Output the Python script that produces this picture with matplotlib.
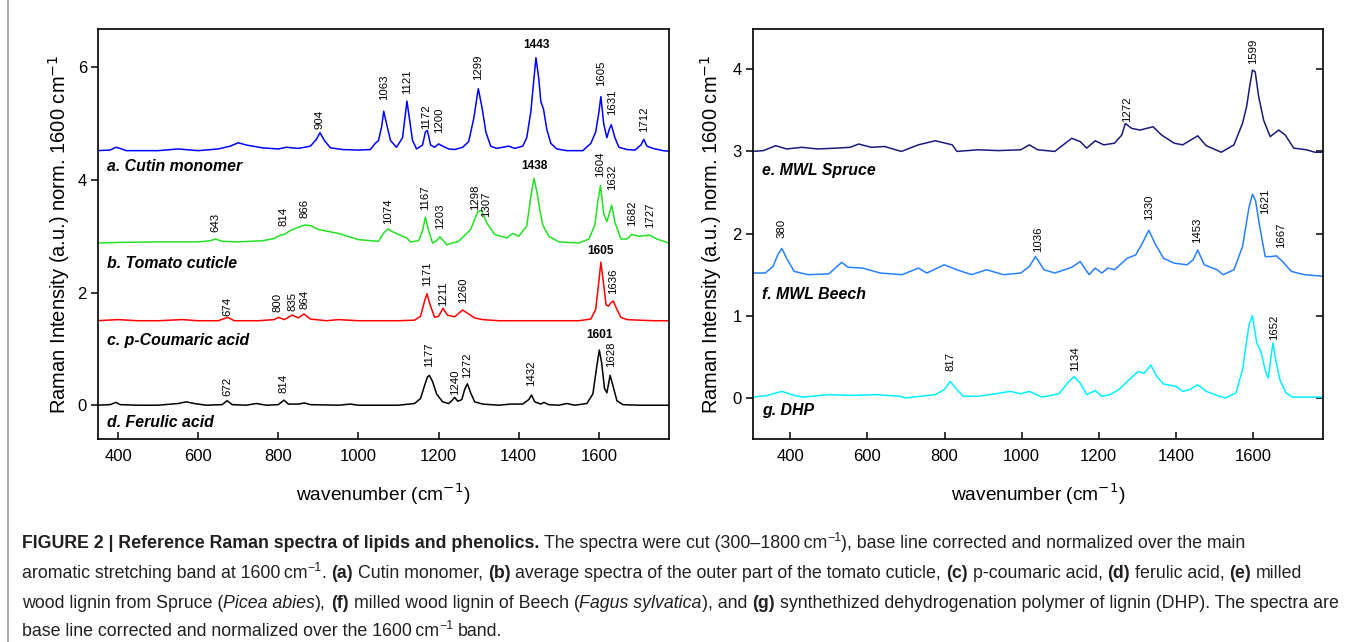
import matplotlib
matplotlib.use('Agg')
import matplotlib.pyplot as plt
from matplotlib import font_manager
from matplotlib.lines import TICKLEFT

plt.rcParams['font.family'] = ['Liberation Sans', 'DejaVu Sans']

# ---- spectra (wavenumber, normalized intensity) ----
cutin_wn = [347, 380, 395, 405, 420, 500, 550, 600, 650, 680, 700, 720, 760, 800, 820, 850, 880, 895, 904, 915,
            930, 960, 1000, 1030, 1042, 1050, 1058, 1063, 1070, 1080, 1095, 1110, 1116, 1121, 1127, 1135, 1145,
            1160, 1167, 1172, 1180, 1190, 1200, 1210, 1225, 1240, 1260, 1275, 1288, 1299, 1308, 1318, 1330, 1345,
            1360, 1375, 1390, 1410, 1420, 1430, 1438, 1443, 1450, 1455, 1462, 1470, 1480, 1495, 1520, 1560, 1580,
            1592, 1600, 1605, 1612, 1620, 1626, 1631, 1640, 1650, 1670, 1690, 1705, 1712, 1720, 1735, 1760, 1775]
cutin_int = [4.52, 4.53, 4.58, 4.56, 4.52, 4.52, 4.55, 4.52, 4.55, 4.60, 4.66, 4.62, 4.57, 4.55, 4.58, 4.56, 4.60,
             4.72, 4.84, 4.70, 4.57, 4.54, 4.53, 4.54, 4.65, 4.70, 4.95, 5.22, 5.00, 4.70, 4.58, 4.75, 5.10, 5.40,
             5.10, 4.70, 4.55, 4.62, 4.85, 4.88, 4.62, 4.58, 4.64, 4.60, 4.55, 4.54, 4.58, 4.68, 5.10, 5.62, 5.30,
             4.85, 4.60, 4.56, 4.58, 4.60, 4.56, 4.60, 4.75, 5.20, 5.80, 6.17, 5.80, 5.40, 5.25, 4.90, 4.65, 4.55,
             4.52, 4.52, 4.65, 4.85, 5.20, 5.48, 5.00, 4.75, 4.90, 4.98, 4.75, 4.58, 4.54, 4.53, 4.62, 4.72, 4.60,
             4.56, 4.52, 4.51]

tomato_wn = [347, 400, 500, 600, 630, 643, 660, 700, 760, 790, 805, 814, 830, 850, 866, 880, 900, 950, 1000, 1050,
             1062, 1074, 1085, 1100, 1120, 1130, 1150, 1160, 1167, 1175, 1185, 1195, 1203, 1212, 1220, 1250, 1280,
             1290, 1298, 1307, 1320, 1340, 1370, 1385, 1400, 1420, 1430, 1438, 1445, 1452, 1460, 1475, 1500, 1550,
             1575, 1590, 1597, 1604, 1612, 1620, 1632, 1640, 1655, 1670, 1682, 1700, 1727, 1745, 1775]
tomato_int = [2.88, 2.89, 2.90, 2.90, 2.92, 2.95, 2.91, 2.90, 2.92, 2.96, 3.02, 3.03, 3.10, 3.16, 3.20, 3.19, 3.12,
              3.05, 2.94, 2.91, 3.05, 3.13, 3.08, 3.03, 2.97, 2.90, 2.92, 3.10, 3.34, 3.10, 2.88, 2.92, 2.99, 2.92,
              2.85, 2.91, 3.12, 3.30, 3.44, 3.46, 3.24, 3.03, 2.97, 3.05, 3.00, 3.18, 3.70, 4.03, 3.80, 3.50, 3.20,
              3.00, 2.90, 2.88, 2.95, 3.20, 3.60, 3.90, 3.40, 3.26, 3.55, 3.25, 2.95, 2.95, 3.03, 3.00, 3.02, 2.95,
              2.88]

coumaric_wn = [347, 400, 450, 500, 560, 600, 650, 674, 690, 750, 790, 800, 815, 835, 850, 864, 880, 920, 950, 1000,
               1050, 1100, 1140, 1155, 1165, 1171, 1178, 1190, 1200, 1211, 1222, 1240, 1260, 1275, 1290, 1310, 1350,
               1400, 1450, 1500, 1550, 1580, 1592, 1600, 1605, 1611, 1618, 1624, 1630, 1636, 1645, 1655, 1670, 1700,
               1740, 1775]
coumaric_int = [1.50, 1.52, 1.50, 1.50, 1.52, 1.50, 1.50, 1.56, 1.50, 1.50, 1.52, 1.56, 1.52, 1.60, 1.55, 1.62,
                1.53, 1.50, 1.52, 1.50, 1.50, 1.50, 1.51, 1.58, 1.85, 1.98, 1.80, 1.56, 1.58, 1.72, 1.60, 1.57, 1.69,
                1.62, 1.55, 1.52, 1.50, 1.50, 1.50, 1.50, 1.50, 1.53, 1.70, 2.20, 2.54, 2.20, 1.78, 1.76, 1.82, 1.85,
                1.70, 1.56, 1.52, 1.51, 1.50, 1.50]

ferulic_wn = [347, 380, 395, 405, 450, 500, 550, 570, 590, 620, 660, 672, 685, 720, 745, 770, 800, 814, 825, 850,
              865, 880, 950, 980, 1000, 1100, 1140, 1155, 1165, 1172, 1177, 1185, 1195, 1210, 1225, 1233, 1240, 1248,
              1258, 1265, 1272, 1280, 1290, 1310, 1350, 1380, 1410, 1425, 1432, 1440, 1455, 1463, 1475, 1500, 1520,
              1540, 1570, 1585, 1595, 1601, 1607, 1614, 1620, 1628, 1635, 1645, 1660, 1700, 1775]
ferulic_int = [0.00, 0.01, 0.05, 0.01, 0.00, 0.00, 0.03, 0.06, 0.03, 0.00, 0.01, 0.08, 0.01, 0.00, 0.03, 0.00, 0.01,
               0.09, 0.02, 0.02, 0.04, 0.01, 0.00, 0.02, 0.00, 0.00, 0.03, 0.12, 0.35, 0.50, 0.53, 0.42, 0.20, 0.06,
               0.03, 0.08, 0.14, 0.07, 0.10, 0.28, 0.38, 0.22, 0.06, 0.02, 0.00, 0.02, 0.02, 0.10, 0.18, 0.06, 0.02,
               0.05, 0.01, 0.00, 0.03, 0.00, 0.03, 0.20, 0.70, 0.98, 0.75, 0.30, 0.22, 0.53, 0.35, 0.08, 0.01, 0.00,
               0.00]

spruce_wn = [303, 330, 362, 390, 430, 470, 520, 555, 577, 610, 644, 688, 732, 776, 820, 832, 887, 940, 998, 1020,
             1042, 1086, 1130, 1152, 1169, 1191, 1213, 1241, 1260, 1269, 1286, 1307, 1341, 1363, 1396, 1418, 1457,
             1479, 1518, 1551, 1573, 1584, 1592, 1599, 1606, 1615, 1628, 1645, 1667, 1684, 1706, 1739, 1761, 1782]
spruce_int = [3.00, 3.01, 3.07, 3.03, 3.05, 3.03, 3.04, 3.05, 3.09, 3.05, 3.06, 3.00, 3.08, 3.13, 3.08, 3.00, 3.02,
              3.01, 3.02, 3.08, 3.02, 3.00, 3.16, 3.12, 3.04, 3.13, 3.08, 3.10, 3.20, 3.34, 3.28, 3.26, 3.30, 3.20,
              3.10, 3.08, 3.19, 3.07, 2.99, 3.08, 3.34, 3.55, 3.80, 3.99, 3.97, 3.67, 3.38, 3.18, 3.26, 3.20, 3.04,
              3.02, 2.99, 2.99]

beech_wn = [303, 335, 355, 368, 378, 390, 410, 445, 500, 533, 550, 588, 633, 690, 732, 754, 799, 832, 870, 909, 953,
            998, 1020, 1036, 1058, 1086, 1130, 1152, 1175, 1191, 1208, 1224, 1241, 1274, 1296, 1313, 1330, 1346, 1368,
            1396, 1429, 1445, 1457, 1474, 1507, 1523, 1551, 1573, 1590, 1599, 1607, 1618, 1632, 1648, 1661, 1677,
            1700, 1733, 1782]
beech_int = [1.52, 1.52, 1.60, 1.75, 1.82, 1.70, 1.54, 1.50, 1.51, 1.65, 1.59, 1.58, 1.52, 1.50, 1.58, 1.52, 1.62,
             1.56, 1.50, 1.56, 1.50, 1.52, 1.60, 1.72, 1.56, 1.52, 1.59, 1.66, 1.50, 1.58, 1.52, 1.58, 1.56, 1.70,
             1.74, 1.88, 2.04, 1.88, 1.70, 1.64, 1.62, 1.68, 1.80, 1.62, 1.56, 1.50, 1.56, 1.84, 2.32, 2.48, 2.40,
             2.08, 1.72, 1.72, 1.73, 1.66, 1.54, 1.50, 1.48]

dhp_wn = [303, 340, 378, 410, 433, 500, 560, 620, 685, 699, 776, 799, 815, 832, 849, 887, 932, 970, 998, 1020, 1053,
          1097, 1119, 1136, 1152, 1169, 1191, 1208, 1230, 1252, 1274, 1302, 1318, 1335, 1351, 1368, 1401, 1418, 1435,
          1457, 1479, 1507, 1529, 1556, 1573, 1590, 1599, 1610, 1621, 1632, 1640, 1646, 1652, 1658, 1670, 1686, 1703,
          1782]
dhp_int = [0.01, 0.03, 0.08, 0.03, 0.01, 0.04, 0.03, 0.04, 0.02, 0.00, 0.04, 0.10, 0.20, 0.10, 0.02, 0.02, 0.05,
           0.08, 0.05, 0.08, 0.01, 0.05, 0.18, 0.26, 0.18, 0.04, 0.09, 0.02, 0.04, 0.10, 0.20, 0.32, 0.30, 0.40,
           0.26, 0.17, 0.14, 0.08, 0.10, 0.16, 0.08, 0.03, 0.00, 0.06, 0.34, 0.89, 1.00, 0.67, 0.56, 0.34, 0.24,
           0.46, 0.67, 0.50, 0.22, 0.06, 0.01, 0.01]

# peak labels: (text, x, y of label foot, rotated)
left_peaks = [
    ('904', 904, 4.90, True), ('1063', 1063, 5.42, True), ('1121', 1121, 5.53, True),
    ('1172', 1170, 4.91, True), ('1200', 1202, 4.84, True), ('1299', 1299, 5.78, True),
    ('1443', 1443, 6.39, False), ('1605', 1605, 5.66, True), ('1631', 1633, 5.16, True),
    ('1712', 1712, 4.86, True),
    ('643', 643, 3.07, True), ('814', 814, 3.19, True), ('866', 866, 3.32, True),
    ('1074', 1074, 3.21, True), ('1167', 1167, 3.47, True), ('1203', 1203, 3.13, True),
    ('1298', 1290, 3.47, True), ('1307', 1318, 3.35, True), ('1438', 1438, 4.24, False),
    ('1604', 1604, 4.05, True), ('1632', 1634, 3.82, True), ('1682', 1682, 3.18, True),
    ('1727', 1727, 3.15, True),
    ('674', 674, 1.58, True), ('800', 799, 1.65, True), ('835', 835, 1.68, True),
    ('864', 866, 1.70, True), ('1171', 1171, 2.12, True), ('1211', 1211, 1.76, True),
    ('1260', 1260, 1.82, True), ('1605', 1605, 2.74, False), ('1636', 1636, 1.97, True),
    ('672', 672, 0.17, True), ('814', 814, 0.22, True), ('1177', 1177, 0.67, True),
    ('1240', 1240, 0.18, True), ('1272', 1272, 0.49, True), ('1432', 1432, 0.34, True),
    ('1601', 1601, 1.24, False), ('1628', 1630, 0.67, True),
]
right_peaks = [
    ('1272', 1274, 3.36, True), ('1599', 1600, 4.07, True),
    ('380', 376, 1.95, True), ('1036', 1043, 1.78, True), ('1330', 1330, 2.17, True),
    ('1453', 1456, 1.88, True), ('1621', 1632, 2.24, True), ('1667', 1673, 1.82, True),
    ('817', 815, 0.33, True), ('1134', 1138, 0.33, True), ('1652', 1656, 0.70, True),
]

left_names = [('a. Cutin monomer', 4.23), ('b. Tomato cuticle', 2.52),
              ('c. p-Coumaric acid', 1.15), ('d. Ferulic acid', -0.30)]
right_names = [('e. MWL Spruce', 2.77), ('f. MWL Beech', 1.26), ('g. DHP', -0.15)]

W, H = 1348, 642
fig = plt.figure(figsize=(W / 100, H / 100), dpi=100)
fig.patch.set_facecolor('white')

ax1 = fig.add_axes([98 / W, 1 - 439 / H, 571 / W, 410 / H])
ax2 = fig.add_axes([753 / W, 1 - 439 / H, 570 / W, 410 / H])

lw = 1.1
ax1.plot(cutin_wn, cutin_int, color='#0000ff', lw=lw)
ax1.plot(tomato_wn, tomato_int, color='#22e022', lw=lw)
ax1.plot(coumaric_wn, coumaric_int, color='#ff0000', lw=lw)
ax1.plot(ferulic_wn, ferulic_int, color='#000000', lw=lw)
ax2.plot(spruce_wn, spruce_int, color='#1a1a78', lw=lw)
ax2.plot(beech_wn, beech_int, color='#2680ff', lw=lw)
ax2.plot(dhp_wn, dhp_int, color='#00f0ff', lw=lw)

ax1.set_xlim(350, 1775)
ax1.set_ylim(-0.6, 6.68)
ax1.set_yticks([0, 2, 4, 6])
ax2.set_xlim(303, 1782)
ax2.set_ylim(-0.5, 4.49)
ax2.set_yticks([0, 1, 2, 3, 4])

for ax in (ax1, ax2):
    ax.set_xticks([400, 600, 800, 1000, 1200, 1400, 1600])
    for s in ax.spines.values():
        s.set_linewidth(1.2)
    ax.tick_params(axis='x', direction='in', length=5, width=1.1, labelsize=12, pad=7)
    ax.tick_params(axis='y', direction='out', length=5, width=1.1, labelsize=12, pad=3)
    ax.set_xlabel('wavenumber (cm$^{-1}$)', fontsize=13.8, labelpad=13)
ax1.set_ylabel('Raman Intensity (a.u.) norm. 1600 cm$^{-1}$', fontsize=14.5, labelpad=4)
ax2.set_ylabel('Raman Intensity (a.u.) norm. 1600 cm$^{-1}$', fontsize=14.5, labelpad=6)
ax2.tick_params(axis='y', right=True)
# right-hand ticks of the lignin panel point inward
for t in ax2.yaxis.get_major_ticks():
    t.tick2line.set_marker(TICKLEFT)

for ax, peaks in ((ax1, left_peaks), (ax2, right_peaks)):
    for txt, x, y, rot in peaks:
        if rot:
            ax.text(x, y, txt, rotation=90, ha='center', va='bottom', fontsize=8.2)
        else:
            ax.text(x, y, txt, ha='center', va='center', fontsize=8.6, fontweight='bold')

for ax, names in ((ax1, left_names), (ax2, right_names)):
    for txt, y in names:
        ax.text(0.016, y, txt, transform=ax.get_yaxis_transform(), ha='left', va='center',
                fontsize=11.4, fontweight='bold', fontstyle='italic')

# left border line of the figure box
fig.add_artist(plt.Line2D([8 / W, 8 / W], [0, 1], color='#9a9a9a', lw=1.2))

# ---- caption ----
names = {f.name for f in font_manager.fontManager.ttflist}
cap_family = 'Liberation Sans Narrow' if 'Liberation Sans Narrow' in names else 'Liberation Sans'
cap_color = '#231f20'

cap_lines = [
    [('FIGURE 2 | Reference Raman spectra of lipids and phenolics.', 'b'),
     (' The spectra were cut (300\u20131800\u2009cm', 'r'), ('\u22121', 's'),
     ('), base line corrected and normalized over the main', 'r')],
    [('aromatic stretching band at 1600\u2009cm', 'r'), ('\u22121', 's'), ('. ', 'r'), ('(a)', 'b'),
     (' Cutin monomer, ', 'r'), ('(b)', 'b'),
     (' average spectra of the outer part of the tomato cuticle, ', 'r'), ('(c)', 'b'),
     (' p-coumaric acid, ', 'r'), ('(d)', 'b'), (' ferulic acid, ', 'r'), ('(e)', 'b'), (' milled', 'r')],
    [('wood lignin from Spruce (', 'r'), ('Picea abies', 'i'), ('), ', 'r'), ('(f)', 'b'),
     (' milled wood lignin of Beech (', 'r'), ('Fagus sylvatica', 'i'), ('), and ', 'r'), ('(g)', 'b'),
     (' synthethized dehydrogenation polymer of lignin (DHP). The spectra are', 'r')],
    [('base line corrected and normalized over the 1600\u2009cm', 'r'), ('\u22121', 's'), (' band.', 'r')],
]
cap_y = [543, 573, 603, 631]

renderer = fig.canvas.get_renderer()


def text_width(s, size, kind):
    kw = dict(fontsize=size, family=[cap_family, 'DejaVu Sans'])
    if kind == 'b':
        kw['fontweight'] = 'bold'
    if kind == 'i':
        kw['fontstyle'] = 'italic'
    t1 = fig.text(0, 0, 'x' + s + 'x', **kw)
    t2 = fig.text(0, 0, 'xx', **kw)
    w = t1.get_window_extent(renderer).width - t2.get_window_extent(renderer).width
    t1.remove()
    t2.remove()
    return w


def line_width(runs, size):
    return sum(text_width(s, size * 0.7 if k == 's' else size, k) for s, k in runs)


# caption size chosen so that the longest line spans the box width
cap_size = 10.0
longest = max(line_width(r, cap_size) for r in cap_lines)
cap_size = cap_size * 1322 / longest

for runs, yp in zip(cap_lines, cap_y):
    x = 22.0
    for s, k in runs:
        size = cap_size * 0.7 if k == 's' else cap_size
        kw = dict(fontsize=size, family=[cap_family, 'DejaVu Sans'], color=cap_color)
        if k == 'b':
            kw['fontweight'] = 'bold'
        if k == 'i':
            kw['fontstyle'] = 'italic'
        lead = len(s) - len(s.lstrip(' '))
        sp = text_width(' ', size, k) * lead
        y = yp - (5 if k == 's' else 0)
        fig.text((x + sp) / W, 1 - y / H, s.strip(' '), ha='left', va='center', **kw)
        x += text_width(s, size, k)

fig.savefig('out.png', dpi=100)
